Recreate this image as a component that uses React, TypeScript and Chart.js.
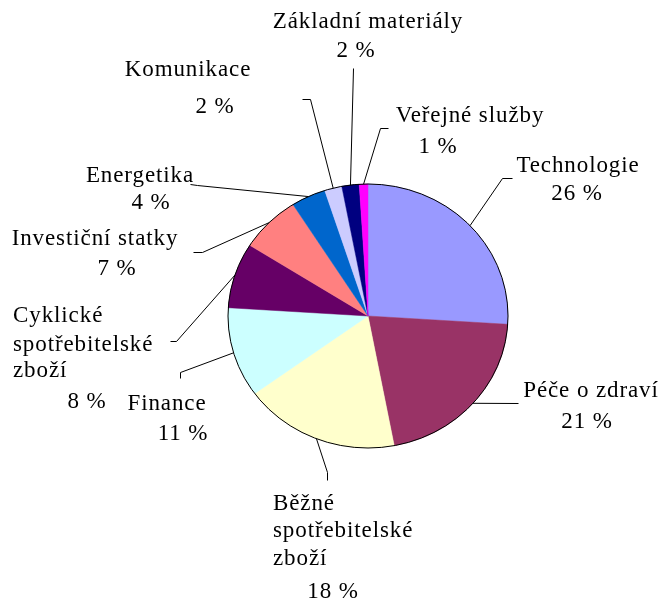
import React, { useEffect, useRef } from "react";
import { Chart, registerables } from "chart.js";

Chart.register(...registerables);

// ---- data ----
const categories: string[] = [
  "Technologie",
  "Péče o zdraví",
  "Běžné\nspotřebitelské\nzboží",
  "Finance",
  "Cyklické\nspotřebitelské\nzboží",
  "Investiční statky",
  "Energetika",
  "Komunikace",
  "Základní materiály",
  "Veřejné služby",
];
const shares: number[] = [26, 21, 18, 11, 8, 7, 4, 2, 2, 1];
const valueLabels: string[] = shares.map((v) => `${v} %`);

// ---- styles ----
const sliceColors: string[] = [
  "#9999FF",
  "#993366",
  "#FFFFCC",
  "#CCFFFF",
  "#660066",
  "#FF8080",
  "#0066CC",
  "#CCCCFF",
  "#000080",
  "#FF00FF",
];

const W = 665;
const H = 602;
const RADIUS = 140;
const Y_SCALE = 132 / 140;
const FONT = '23px "Liberation Serif", "Times New Roman", serif';
const LETTER_SPACING = "0.9px";

type TextPos = { dx: number; dy: number; align: "center" | "left" };
type LabelLayout = { name: TextPos[]; value: TextPos; path: [number, number][] };

// label positions relative to the pie centre
const labelLayout: LabelLayout[] = [
  { name: [{ dx: 210, dy: -144, align: "center" }], value: { dx: 209, dy: -116, align: "center" }, path: [[134, -138], [144, -138]] },
  { name: [{ dx: 223, dy: 81, align: "center" }], value: { dx: 219, dy: 112, align: "center" }, path: [[150, 87]] },
  {
    name: [
      { dx: -95, dy: 194, align: "left" },
      { dx: -95, dy: 221, align: "left" },
      { dx: -95, dy: 249, align: "left" },
    ],
    value: { dx: -35, dy: 282, align: "center" },
    path: [[-41, 156], [-41, 164]],
  },
  { name: [{ dx: -201, dy: 94, align: "center" }], value: { dx: -185, dy: 124, align: "center" }, path: [[-188, 56], [-188, 62]] },
  {
    name: [
      { dx: -355, dy: 6, align: "left" },
      { dx: -355, dy: 35, align: "left" },
      { dx: -355, dy: 61, align: "left" },
    ],
    value: { dx: -281, dy: 92, align: "center" },
    path: [[-192, 25], [-198, 25]],
  },
  { name: [{ dx: -273, dy: -71, align: "center" }], value: { dx: -251, dy: -41, align: "center" }, path: [[-166, -64], [-175, -64]] },
  { name: [{ dx: -228, dy: -134, align: "center" }], value: { dx: -217, dy: -107, align: "center" }, path: [[-171, -131], [-178, -132]] },
  { name: [{ dx: -180, dy: -240, align: "center" }], value: { dx: -153, dy: -203, align: "center" }, path: [[-58, -217], [-66, -217]] },
  { name: [{ dx: 0, dy: -288, align: "center" }], value: { dx: -12, dy: -259, align: "center" }, path: [[-15, -248]] },
  { name: [{ dx: 102, dy: -194, align: "center" }], value: { dx: 70, dy: -163, align: "center" }, path: [[12, -188], [20, -188]] },
];

const ellipsePlugin = {
  id: "ellipsePie",
  beforeDatasetsDraw(chart: any) {
    const arc = chart.getDatasetMeta(0).data[0];
    if (!arc) return;
    const { x, y } = arc.getProps(["x", "y"], true);
    const ctx = chart.ctx;
    ctx.save();
    ctx.translate(x, y);
    ctx.scale(1, Y_SCALE);
    ctx.translate(-x, -y);
  },
  afterDatasetsDraw(chart: any) {
    const ctx = chart.ctx;
    ctx.restore();
    const arc = chart.getDatasetMeta(0).data[0];
    if (!arc) return;
    const { x, y, outerRadius } = arc.getProps(["x", "y", "outerRadius"], true);
    ctx.save();
    ctx.beginPath();
    ctx.ellipse(x, y, outerRadius, outerRadius * Y_SCALE, 0, 0, Math.PI * 2);
    ctx.lineWidth = 1;
    ctx.strokeStyle = "#000000";
    ctx.stroke();
    ctx.restore();
  },
};

const labelPlugin = {
  id: "pieLabels",
  afterDraw(chart: any) {
    const ctx = chart.ctx;
    const meta = chart.getDatasetMeta(0);
    ctx.save();
    ctx.font = FONT;
    (ctx as any).letterSpacing = LETTER_SPACING;
    ctx.fillStyle = "#000000";
    ctx.textBaseline = "alphabetic";
    ctx.strokeStyle = "#000000";
    ctx.lineWidth = 1;
    meta.data.forEach((arc: any, i: number) => {
      const layout = labelLayout[i];
      if (!layout) return;
      const { x, y, startAngle, endAngle, outerRadius } = arc.getProps(
        ["x", "y", "startAngle", "endAngle", "outerRadius"],
        true
      );
      const mid = (startAngle + endAngle) / 2;
      const ax = x + outerRadius * Math.cos(mid);
      const ay = y + outerRadius * Y_SCALE * Math.sin(mid);
      ctx.beginPath();
      ctx.moveTo(ax, ay);
      layout.path.forEach(([dx, dy]) => ctx.lineTo(x + dx + 0.5, y + dy + 0.5));
      ctx.stroke();

      const nameLines = String(chart.data.labels[i]).split("\n");
      nameLines.forEach((line: string, k: number) => {
        const p = layout.name[k] || layout.name[layout.name.length - 1];
        ctx.textAlign = p.align;
        ctx.fillText(line, x + p.dx, y + p.dy);
      });
      ctx.textAlign = layout.value.align;
      ctx.fillText(valueLabels[i], x + layout.value.dx, y + layout.value.dy);
    });
    ctx.restore();
  },
};

export default function App() {
  const canvasRef = useRef<HTMLCanvasElement | null>(null);

  useEffect(() => {
    const canvas = canvasRef.current;
    if (!canvas) return;
    const cx = 368;
    const cy = 316;
    const chart = new Chart(canvas, {
      type: "pie",
      data: {
        labels: categories,
        datasets: [
          {
            data: shares,
            backgroundColor: sliceColors,
            borderColor: sliceColors,
            borderWidth: 0.5,
          },
        ],
      },
      options: {
        responsive: false,
        animation: false,
        devicePixelRatio: 1,
        radius: RADIUS,
        layout: {
          padding: {
            left: cx - RADIUS,
            right: W - (cx + RADIUS),
            top: cy - RADIUS,
            bottom: H - (cy + RADIUS),
          },
        },
        plugins: {
          legend: { display: false },
          tooltip: { enabled: false },
          title: { display: false },
        },
      } as any,
      plugins: [ellipsePlugin, labelPlugin],
    });
    return () => chart.destroy();
  }, []);

  return (
    <div style={{ position: "absolute", left: 0, top: 0, width: W, height: H, background: "#ffffff" }}>
      <canvas ref={canvasRef} width={W} height={H} style={{ width: W, height: H, display: "block" }} />
    </div>
  );
}
